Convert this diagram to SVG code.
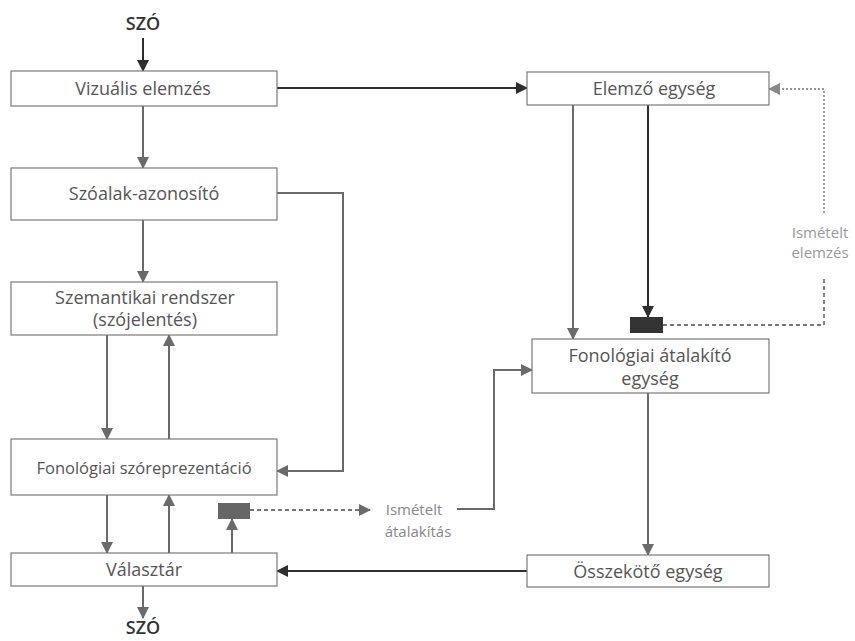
<svg xmlns="http://www.w3.org/2000/svg" width="855" height="641" viewBox="0 0 855 641">
<style>
.box{fill:#fff;stroke:#7a7a7a;stroke-width:1.2}
.t{font-family:"Open Sans","Noto Sans",sans-serif;font-size:18px;fill:#555;text-anchor:middle}
.big{font-family:"Open Sans","Noto Sans",sans-serif;font-size:18px;font-weight:600;fill:#333;text-anchor:middle}
.lt{font-family:"Open Sans","Noto Sans",sans-serif;font-size:15px;fill:#999;text-anchor:middle}
.g{stroke:#6a6a6a;stroke-width:2;fill:none}
.d{stroke:#2e2e2e;stroke-width:2;fill:none}
.dash{stroke:#777;stroke-width:1.8;fill:none;stroke-dasharray:4 3}
.dot{stroke:#999;stroke-width:1.8;fill:none;stroke-dasharray:2 2}
</style>
<defs>
<marker id="ag" markerWidth="12" markerHeight="12" refX="11" refY="6" orient="auto" markerUnits="userSpaceOnUse"><path d="M0,0 L12,6 L0,12 Z" fill="#6a6a6a"/></marker>
<marker id="ad" markerWidth="12" markerHeight="12" refX="11" refY="6" orient="auto" markerUnits="userSpaceOnUse"><path d="M0,0 L12,6 L0,12 Z" fill="#2e2e2e"/></marker>
<marker id="al" markerWidth="12" markerHeight="12" refX="11" refY="6" orient="auto" markerUnits="userSpaceOnUse"><path d="M0,0 L12,6 L0,12 Z" fill="#888"/></marker>
</defs>
<rect width="855" height="641" fill="#fff"/>
<g id="connectors">
<line class="d" x1="143" y1="38" x2="143" y2="71" marker-end="url(#ad)"/>
<line class="d" x1="277" y1="88" x2="527" y2="88" marker-end="url(#ad)"/>
<line class="g" x1="143" y1="106" x2="143" y2="168" marker-end="url(#ag)"/>
<line class="g" x1="143" y1="220" x2="143" y2="282" marker-end="url(#ag)"/>
<polyline class="g" points="277,193 343,193 343,471 277,471" marker-end="url(#ag)"/>
<line class="g" x1="107" y1="335" x2="107" y2="439" marker-end="url(#ag)"/>
<line class="g" x1="169" y1="439" x2="169" y2="335" marker-end="url(#ag)"/>
<line class="g" x1="107" y1="495" x2="107" y2="553" marker-end="url(#ag)"/>
<line class="g" x1="169" y1="553" x2="169" y2="495" marker-end="url(#ag)"/>
<line class="g" x1="232" y1="553" x2="232" y2="519" marker-end="url(#ag)"/>
<line class="dash" x1="250" y1="510" x2="370" y2="510" marker-end="url(#ag)"/>
<polyline class="g" points="457,509 494,509 494,370 532,370" marker-end="url(#ag)"/>
<line class="g" x1="143" y1="586" x2="143" y2="618" marker-end="url(#ag)"/>
<line class="g" x1="573" y1="105" x2="573" y2="339" marker-end="url(#ag)"/>
<line class="d" x1="648" y1="105" x2="648" y2="317" marker-end="url(#ad)"/>
<polyline class="dash" points="663,325 824,325 824,277"/>
<polyline class="dot" points="824,213 824,89 769,89" marker-end="url(#al)"/>
<line class="g" x1="648" y1="393" x2="648" y2="555" marker-end="url(#ag)"/>
<line class="d" x1="527" y1="571" x2="277" y2="571" marker-end="url(#ad)"/>
</g>
<g id="szo-top"><text class="big" x="143" y="30">SZÓ</text></g>
<g id="vizualis"><rect class="box" x="11" y="71" width="266" height="35"/><text class="t" x="143" y="95">Vizuális elemzés</text></g>
<g id="szoalak"><rect class="box" x="11" y="168" width="266" height="52"/><text class="t" x="144" y="200">Szóalak-azonosító</text></g>
<g id="szemantikai"><rect class="box" x="11" y="282" width="266" height="53"/><text class="t" x="145" y="304">Szemantikai rendszer</text><text class="t" x="145" y="326">(szójelentés)</text></g>
<g id="fonszorep"><rect class="box" x="11" y="439" width="266" height="56"/><text class="t" x="144" y="474" style="font-size:16.5px">Fonológiai szóreprezentáció</text></g>
<g id="valasztar"><rect class="box" x="11" y="553" width="266" height="33"/><text class="t" x="144" y="576">Választár</text></g>
<g id="szo-bottom"><text class="big" x="143" y="634">SZÓ</text></g>
<g id="elemzo"><rect class="box" x="527" y="72" width="242" height="33"/><text class="t" x="654" y="95">Elemző egység</text></g>
<g id="fonatalakito"><rect class="box" x="532" y="339" width="237" height="54"/><text class="t" x="650" y="362">Fonológiai átalakító</text><text class="t" x="650" y="385">egység</text></g>
<g id="osszekoto"><rect class="box" x="527" y="555" width="242" height="32"/><text class="t" x="648" y="578">Összekötő egység</text></g>
<g id="buffer-top"><rect x="630" y="317" width="33" height="16" fill="#333"/></g>
<g id="buffer-bottom"><rect x="218" y="503" width="32" height="16" fill="#666"/></g>
<g id="ismetelt-elemzes"><text class="lt" x="820" y="238">Ismételt</text><text class="lt" x="820" y="258">elemzés</text></g>
<g id="ismetelt-atalakitas"><text class="lt" x="414" y="515" style="fill:#888">Ismételt</text><text class="lt" x="418" y="537" style="fill:#888">átalakítás</text></g>
</svg>
